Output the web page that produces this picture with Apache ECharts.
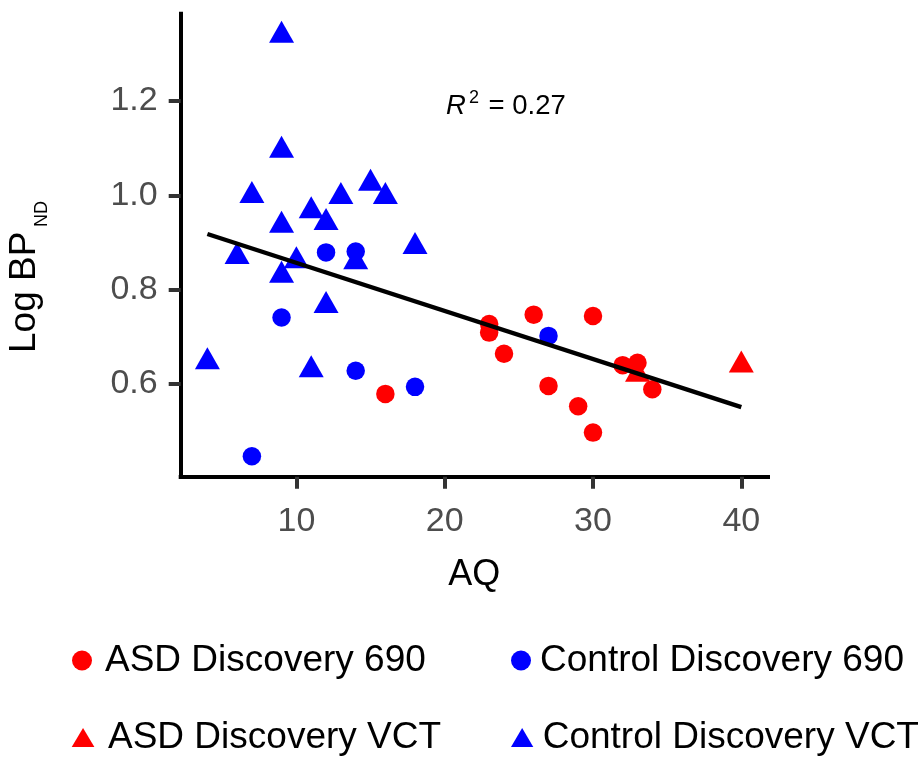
<!DOCTYPE html>
<html>
<head>
<meta charset="utf-8">
<script src="https://cdn.jsdelivr.net/npm/echarts@6/dist/echarts.min.js"></script>
<style>
html,body{margin:0;padding:0;background:#fff;}
#chart{width:923px;height:758px;}
</style>
</head>
<body>
<div id="chart"></div>
<script>
// ---- data ----
const asd690 = [[16,0.579],[23,0.727],[23,0.709],[24,0.664],[26,0.747],[27,0.596],[29,0.553],[30,0.744],[30,0.497],[32,0.640],[33,0.645],[34,0.589]];
const control690 = [[7,0.447],[9,0.741],[12,0.879],[14,0.881],[14,0.628],[18,0.594],[27,0.702]];
const asdVCT = [[33,0.620],[40,0.640]];
const controlVCT = [[4,0.647],[6,0.870],[7,0.999],[9,1.339],[9,1.095],[9,0.936],[9,0.830],[10,0.861],[11,0.967],[11,0.630],[12,0.942],[12,0.766],[13,0.997],[14,0.859],[15,1.025],[16,0.997],[18,0.891]];
const fitLine = [[4,0.918],[40,0.551]];
const xTicks = [10,20,30,40];
const yTicks = [0.6,0.8,1.0,1.2];
const seriesNames = ['ASD Discovery 690','Control Discovery 690','ASD Discovery VCT','Control Discovery VCT'];
const rSquared = '0.27';

const FONT = '"Liberation Sans", Arial, Helvetica, sans-serif';
const RED = '#FF0000', BLUE = '#0000FF';

const chart = echarts.init(document.getElementById('chart'), null, {renderer:'canvas'});

function legendFor(name, icon, left, top, w, h, pad) {
  return {
    data: [{name: name, icon: icon}],
    left: left, top: top, padding: 0,
    itemWidth: w, itemHeight: h,
    selectedMode: false,
    formatter: n => '{t|' + n + '}',
    textStyle: {
      rich: { t: { fontSize: 37, fontFamily: FONT, color: '#000', lineHeight: 40, padding: [0,0,0,pad] } }
    }
  };
}

const option = {
  animation: false,
  backgroundColor: '#fff',
  grid: {left: 180.7, right: 155, top: 13.7, bottom: 281.3, containLabel: false},
  xAxis: {
    type: 'value', min: 2.2, max: 41.8,
    name: 'AQ', nameLocation: 'middle', nameGap: 80,
    nameTextStyle: {fontSize: 36, fontFamily: FONT, color: '#000'},
    axisLine: {show: true, lineStyle: {color: '#000', width: 4, cap: 'square'}},
    axisTick: {show: true, customValues: xTicks, length: 12, lineStyle: {color: '#333', width: 4}},
    axisLabel: {customValues: xTicks, margin: 28, fontSize: 34, fontFamily: FONT, color: '#4D4D4D'},
    splitLine: {show: false}
  },
  yAxis: {
    type: 'value', min: 0.4035, max: 1.385,
    axisLine: {show: true, lineStyle: {color: '#000', width: 4, cap: 'square'}},
    axisTick: {show: true, customValues: yTicks, length: 12, lineStyle: {color: '#333', width: 4}},
    axisLabel: {customValues: yTicks, margin: 23, fontSize: 34, fontFamily: FONT, color: '#4D4D4D',
      formatter: v => v.toFixed(1)},
    splitLine: {show: false}
  },
  legend: [
    legendFor(seriesNames[0], 'circle', 72, 642, 20, 20, 8),
    legendFor(seriesNames[1], 'circle', 511, 642, 20, 20, 4),
    legendFor(seriesNames[2], 'triangle', 71.7, 719, 22.7, 19, 8.6),
    legendFor(seriesNames[3], 'triangle', 511, 719, 22.3, 19, 4.4)
  ],
  graphic: [
    {type: 'text', x: 25, y: 353, rotation: Math.PI/2,
      style: {text: 'Log BP', fontSize: 37, fontFamily: FONT, fill: '#000', align: 'left', verticalAlign: 'middle'}},
    {type: 'text', x: 42.5, y: 227, rotation: Math.PI/2,
      style: {text: 'ND', fontSize: 18, fontFamily: FONT, fill: '#000', align: 'left', verticalAlign: 'middle'}},
    {type: 'text', x: 446, y: 106,
      style: {text: 'R', fontSize: 27.5, fontStyle: 'italic', fontFamily: FONT, fill: '#000', align: 'left', verticalAlign: 'middle'}},
    {type: 'text', x: 469, y: 98,
      style: {text: '2', fontSize: 18, fontFamily: FONT, fill: '#000', align: 'left', verticalAlign: 'middle'}},
    {type: 'text', x: 488.5, y: 106,
      style: {text: '= ' + rSquared, fontSize: 27.5, fontFamily: FONT, fill: '#000', align: 'left', verticalAlign: 'middle'}}
  ],
  series: [
    {name: seriesNames[2], type: 'scatter', data: asdVCT, symbol: 'triangle', symbolSize: [25, 22], symbolOffset: [0, -3.7],
      itemStyle: {color: RED, opacity: 1}, emphasis: {disabled: true}},
    {name: seriesNames[3], type: 'scatter', data: controlVCT, symbol: 'triangle', symbolSize: [25, 22], symbolOffset: [0, -3.7],
      itemStyle: {color: BLUE, opacity: 1}, emphasis: {disabled: true}},
    {name: seriesNames[0], type: 'scatter', data: asd690, symbol: 'circle', symbolSize: 18.5,
      itemStyle: {color: RED, opacity: 1}, emphasis: {disabled: true}},
    {name: seriesNames[1], type: 'scatter', data: control690, symbol: 'circle', symbolSize: 18.5,
      itemStyle: {color: BLUE, opacity: 1}, emphasis: {disabled: true}},
    {name: 'fit', type: 'line', data: fitLine, symbol: 'none', silent: true,
      lineStyle: {color: '#000', width: 4.4}, z: 5}
  ]
};
chart.setOption(option);
</script>
</body>
</html>
